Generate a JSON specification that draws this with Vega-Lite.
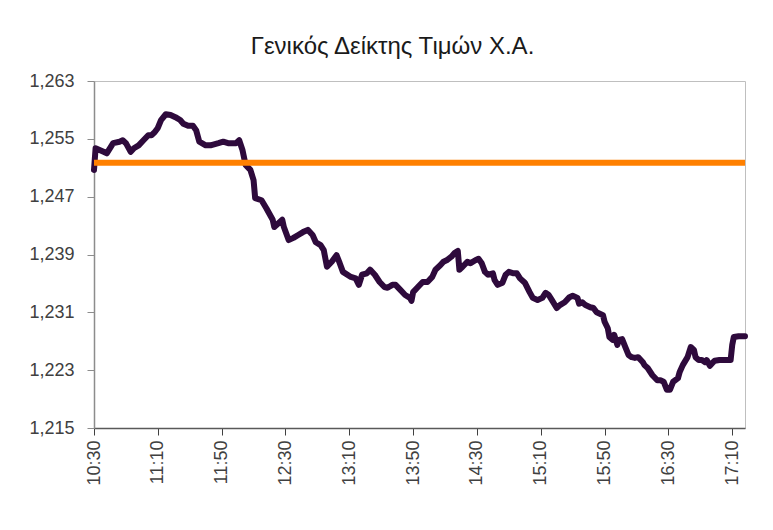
{
  "$schema": "https://vega.github.io/schema/vega-lite/v6.json",
  "width": 651,
  "height": 347,
  "autosize": "none",
  "padding": {"left": 94, "top": 81, "right": 28, "bottom": 102},
  "background": "white",
  "title": {
    "text": "Γενικός Δείκτης Τιμών Χ.Α.",
    "font": "Liberation Sans",
    "fontSize": 24,
    "fontWeight": "normal",
    "color": "#1a1a1a",
    "anchor": "middle",
    "dx": -27,
    "offset": 13
  },
  "config": {
    "view": {"stroke": "#bfbfbf", "strokeWidth": 1},
    "axis": {
      "labelFont": "Liberation Sans",
      "labelFontSize": 18,
      "labelColor": "#404040",
      "grid": false,
      "tickSize": 7,
      "title": null
    }
  },
  "layer": [
    {
      "data": {
        "values": [
          {"t": "10:30", "v": 1250.7},
          {"t": "10:31", "v": 1253.7},
          {"t": "10:36", "v": 1253.2},
          {"t": "10:38", "v": 1253.0},
          {"t": "10:42", "v": 1254.4},
          {"t": "10:46", "v": 1254.6},
          {"t": "10:48", "v": 1254.8},
          {"t": "10:50", "v": 1254.4},
          {"t": "10:53", "v": 1253.2},
          {"t": "10:55", "v": 1253.7},
          {"t": "10:58", "v": 1254.1},
          {"t": "11:01", "v": 1254.8},
          {"t": "11:04", "v": 1255.5},
          {"t": "11:06", "v": 1255.5},
          {"t": "11:08", "v": 1255.9},
          {"t": "11:10", "v": 1256.5},
          {"t": "11:12", "v": 1257.6},
          {"t": "11:15", "v": 1258.4},
          {"t": "11:18", "v": 1258.3},
          {"t": "11:21", "v": 1258.0},
          {"t": "11:24", "v": 1257.6},
          {"t": "11:26", "v": 1257.1},
          {"t": "11:29", "v": 1256.8},
          {"t": "11:32", "v": 1256.8},
          {"t": "11:34", "v": 1256.2},
          {"t": "11:36", "v": 1254.6},
          {"t": "11:40", "v": 1254.1},
          {"t": "11:43", "v": 1254.1},
          {"t": "11:48", "v": 1254.4},
          {"t": "11:51", "v": 1254.6},
          {"t": "11:54", "v": 1254.4},
          {"t": "11:57", "v": 1254.4},
          {"t": "11:59", "v": 1254.4},
          {"t": "12:01", "v": 1254.8},
          {"t": "12:03", "v": 1253.5},
          {"t": "12:05", "v": 1251.4},
          {"t": "12:08", "v": 1250.7},
          {"t": "12:10", "v": 1249.3},
          {"t": "12:11", "v": 1246.8},
          {"t": "12:15", "v": 1246.5},
          {"t": "12:18", "v": 1245.4},
          {"t": "12:22", "v": 1243.8},
          {"t": "12:23", "v": 1242.8},
          {"t": "12:28", "v": 1243.8},
          {"t": "12:29", "v": 1242.8},
          {"t": "12:32", "v": 1241.0},
          {"t": "12:35", "v": 1241.3},
          {"t": "12:38", "v": 1241.7},
          {"t": "12:41", "v": 1242.1},
          {"t": "12:44", "v": 1242.4},
          {"t": "12:47", "v": 1241.7},
          {"t": "12:49", "v": 1240.7},
          {"t": "12:52", "v": 1240.3},
          {"t": "12:54", "v": 1239.6},
          {"t": "12:56", "v": 1237.3},
          {"t": "12:59", "v": 1238.0},
          {"t": "13:02", "v": 1238.9},
          {"t": "13:04", "v": 1237.8},
          {"t": "13:06", "v": 1236.6},
          {"t": "13:11", "v": 1235.9},
          {"t": "13:14", "v": 1235.7},
          {"t": "13:16", "v": 1234.8},
          {"t": "13:18", "v": 1236.2},
          {"t": "13:21", "v": 1236.4},
          {"t": "13:23", "v": 1236.9},
          {"t": "13:26", "v": 1236.2},
          {"t": "13:29", "v": 1235.2},
          {"t": "13:32", "v": 1234.5},
          {"t": "13:34", "v": 1234.4},
          {"t": "13:37", "v": 1234.8},
          {"t": "13:39", "v": 1234.8},
          {"t": "13:42", "v": 1234.1},
          {"t": "13:45", "v": 1233.4},
          {"t": "13:48", "v": 1233.0},
          {"t": "13:49", "v": 1232.6},
          {"t": "13:50", "v": 1233.8},
          {"t": "13:53", "v": 1234.5},
          {"t": "13:56", "v": 1235.2},
          {"t": "13:59", "v": 1235.2},
          {"t": "14:02", "v": 1235.9},
          {"t": "14:04", "v": 1236.9},
          {"t": "14:07", "v": 1237.5},
          {"t": "14:09", "v": 1238.0},
          {"t": "14:11", "v": 1238.2},
          {"t": "14:14", "v": 1238.7},
          {"t": "14:16", "v": 1239.2},
          {"t": "14:18", "v": 1239.5},
          {"t": "14:19", "v": 1236.9},
          {"t": "14:21", "v": 1237.3},
          {"t": "14:24", "v": 1238.0},
          {"t": "14:26", "v": 1237.8},
          {"t": "14:29", "v": 1238.2},
          {"t": "14:31", "v": 1238.4},
          {"t": "14:33", "v": 1237.8},
          {"t": "14:35", "v": 1236.6},
          {"t": "14:37", "v": 1236.2},
          {"t": "14:40", "v": 1236.4},
          {"t": "14:41", "v": 1235.5},
          {"t": "14:43", "v": 1234.8},
          {"t": "14:46", "v": 1235.1},
          {"t": "14:48", "v": 1236.2},
          {"t": "14:50", "v": 1236.6},
          {"t": "14:53", "v": 1236.4},
          {"t": "14:55", "v": 1236.4},
          {"t": "14:57", "v": 1235.7},
          {"t": "15:00", "v": 1235.1},
          {"t": "15:03", "v": 1233.8},
          {"t": "15:05", "v": 1233.0},
          {"t": "15:08", "v": 1232.7},
          {"t": "15:11", "v": 1233.0},
          {"t": "15:13", "v": 1233.7},
          {"t": "15:15", "v": 1233.4},
          {"t": "15:17", "v": 1232.7},
          {"t": "15:20", "v": 1231.6},
          {"t": "15:22", "v": 1232.0},
          {"t": "15:25", "v": 1232.4},
          {"t": "15:28", "v": 1233.1},
          {"t": "15:30", "v": 1233.3},
          {"t": "15:33", "v": 1233.0},
          {"t": "15:34", "v": 1232.2},
          {"t": "15:36", "v": 1232.4},
          {"t": "15:38", "v": 1232.0},
          {"t": "15:41", "v": 1231.7},
          {"t": "15:43", "v": 1231.6},
          {"t": "15:45", "v": 1231.0},
          {"t": "15:49", "v": 1230.6},
          {"t": "15:50", "v": 1229.7},
          {"t": "15:52", "v": 1228.8},
          {"t": "15:53", "v": 1227.6},
          {"t": "15:55", "v": 1227.2},
          {"t": "15:56", "v": 1227.9},
          {"t": "15:58", "v": 1226.5},
          {"t": "15:59", "v": 1227.2},
          {"t": "16:01", "v": 1227.3},
          {"t": "16:03", "v": 1226.2},
          {"t": "16:05", "v": 1225.1},
          {"t": "16:07", "v": 1224.8},
          {"t": "16:09", "v": 1224.7},
          {"t": "16:11", "v": 1224.8},
          {"t": "16:14", "v": 1224.1},
          {"t": "16:15", "v": 1223.7},
          {"t": "16:17", "v": 1223.3},
          {"t": "16:20", "v": 1222.3},
          {"t": "16:23", "v": 1221.6},
          {"t": "16:25", "v": 1221.6},
          {"t": "16:27", "v": 1221.4},
          {"t": "16:29", "v": 1220.3},
          {"t": "16:31", "v": 1220.3},
          {"t": "16:33", "v": 1221.4},
          {"t": "16:36", "v": 1221.9},
          {"t": "16:37", "v": 1222.7},
          {"t": "16:39", "v": 1223.7},
          {"t": "16:42", "v": 1224.8},
          {"t": "16:44", "v": 1226.2},
          {"t": "16:46", "v": 1225.8},
          {"t": "16:47", "v": 1224.8},
          {"t": "16:49", "v": 1224.4},
          {"t": "16:51", "v": 1224.4},
          {"t": "16:53", "v": 1224.1},
          {"t": "16:54", "v": 1224.4},
          {"t": "16:56", "v": 1223.6},
          {"t": "16:58", "v": 1224.1},
          {"t": "16:59", "v": 1224.3},
          {"t": "17:02", "v": 1224.4},
          {"t": "17:06", "v": 1224.4},
          {"t": "17:09", "v": 1224.4},
          {"t": "17:10", "v": 1226.5},
          {"t": "17:11", "v": 1227.6},
          {"t": "17:14", "v": 1227.7},
          {"t": "17:18", "v": 1227.7}
        ],
        "format": {"parse": {"t": "date:'%H:%M'"}}
      },
      "mark": {"type": "line", "color": "#2e0a3c", "strokeWidth": 6, "strokeJoin": "round", "strokeCap": "round"},
      "encoding": {
        "x": {
          "field": "t",
          "type": "temporal",
          "scale": {
            "domain": [
              {"year": 1900, "month": 1, "date": 1, "hours": 10, "minutes": 30},
              {"year": 1900, "month": 1, "date": 1, "hours": 17, "minutes": 18}
            ],
            "nice": false
          },
          "axis": {
            "format": "%H:%M",
            "labelAngle": -90,
            "labelPadding": 5,
            "domainColor": "#595959",
            "domainWidth": 1.5,
            "tickColor": "#404040",
            "values": [
              {"year": 1900, "month": 1, "date": 1, "hours": 10, "minutes": 30},
              {"year": 1900, "month": 1, "date": 1, "hours": 11, "minutes": 10},
              {"year": 1900, "month": 1, "date": 1, "hours": 11, "minutes": 50},
              {"year": 1900, "month": 1, "date": 1, "hours": 12, "minutes": 30},
              {"year": 1900, "month": 1, "date": 1, "hours": 13, "minutes": 10},
              {"year": 1900, "month": 1, "date": 1, "hours": 13, "minutes": 50},
              {"year": 1900, "month": 1, "date": 1, "hours": 14, "minutes": 30},
              {"year": 1900, "month": 1, "date": 1, "hours": 15, "minutes": 10},
              {"year": 1900, "month": 1, "date": 1, "hours": 15, "minutes": 50},
              {"year": 1900, "month": 1, "date": 1, "hours": 16, "minutes": 30},
              {"year": 1900, "month": 1, "date": 1, "hours": 17, "minutes": 10}
            ]
          }
        },
        "y": {
          "field": "v",
          "type": "quantitative",
          "scale": {"domain": [1215, 1263], "nice": false, "zero": false},
          "axis": {
            "values": [1215, 1223, 1231, 1239, 1247, 1255, 1263],
            "format": ",d",
            "labelPadding": 13,
            "domainColor": "#8c8c8c",
            "domainWidth": 1.5,
            "tickColor": "#8c8c8c"
          }
        }
      }
    },
    {
      "data": {"values": [{"prev": 1251.7}]},
      "mark": {"type": "rule", "color": "#ff8000", "strokeWidth": 6},
      "encoding": {
        "y": {"field": "prev", "type": "quantitative"}
      }
    }
  ]
}
